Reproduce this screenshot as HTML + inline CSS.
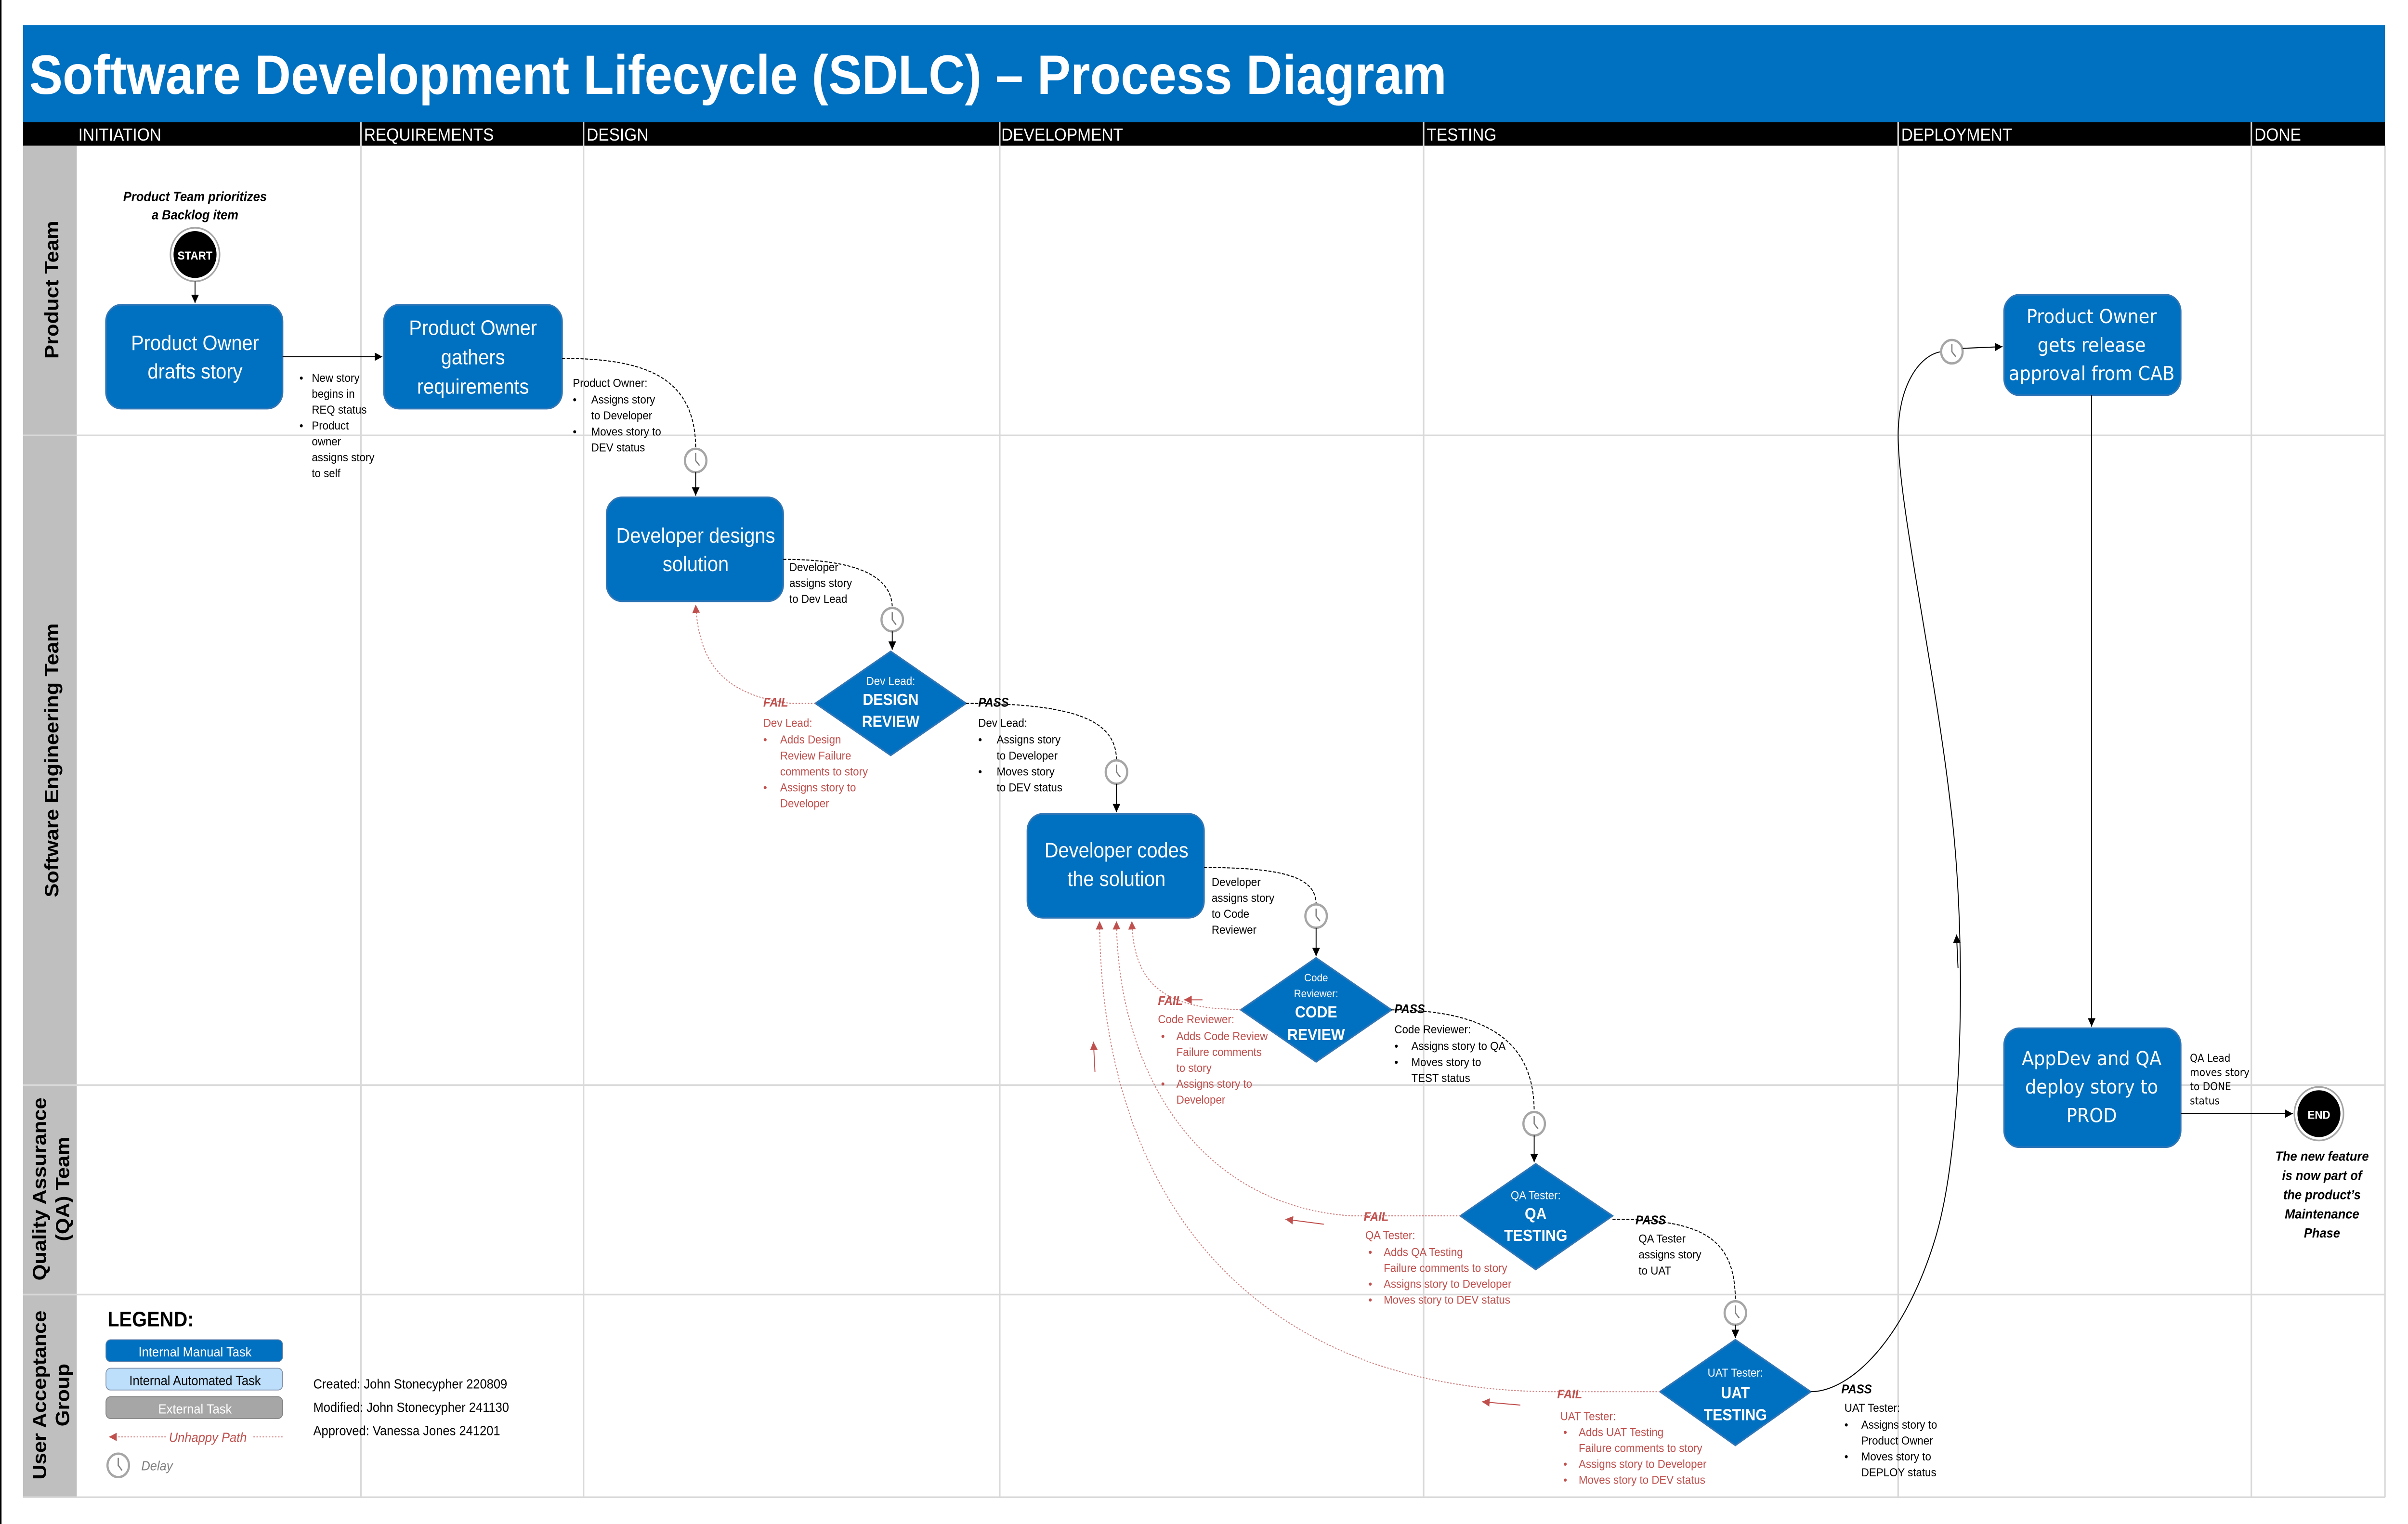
<!DOCTYPE html>
<html><head><meta charset="utf-8"><style>
html,body{margin:0;padding:0;background:#fff;width:100%;height:100%;overflow:hidden;}
svg{display:block;width:100vw;height:100vh;}
text{font-family:"Liberation Sans",sans-serif;}
.s{font-size:7px;fill:#000}
.r{font-size:7px;fill:#C0504D}
.bx{fill:#0070C0;stroke:#2E75B6;stroke-width:1}
.bt{fill:#fff;font-size:12.5px;text-anchor:middle}
.cn{fill:none;stroke:#000;stroke-width:0.6}
.cd{fill:none;stroke:#000;stroke-width:0.6;stroke-dasharray:2,1}
.rd{fill:none;stroke:#D08080;stroke-width:0.6;stroke-dasharray:1,1}
.pf{font-size:7.5px;font-weight:bold;font-style:italic}
.dj{font-family:"DejaVu Sans",sans-serif}
</style></head><body>
<svg viewBox="0 0 1568 910" preserveAspectRatio="none" xmlns="http://www.w3.org/2000/svg">
<defs>
<marker id="a" markerWidth="6" markerHeight="6" refX="5" refY="3" orient="auto" markerUnits="userSpaceOnUse"><path d="M0,0.5 L5,3 L0,5.5z" fill="#000"/></marker>
<marker id="ar" markerWidth="6" markerHeight="6" refX="5" refY="3" orient="auto" markerUnits="userSpaceOnUse"><path d="M0,0.5 L5,3 L0,5.5z" fill="#C0504D"/></marker>
<g id="clk"><circle r="7" fill="#fff" stroke="#A6A6A6" stroke-width="1.4"/><path d="M0,-4.5 L0,0 L2.5,3" fill="none" stroke="#808080" stroke-width="0.8"/></g>
</defs>
<rect width="1568" height="910" fill="#fff"/>
<line x1="0.5" y1="0" x2="0.5" y2="910" stroke="#000" stroke-width="1"/>
<rect x="15" y="15" width="1538" height="58" fill="#0070C0"/>
<text x="19" y="56" font-size="33" font-weight="bold" fill="#fff" textLength="923" lengthAdjust="spacingAndGlyphs">Software Development Lifecycle (SDLC) – Process Diagram</text>
<rect x="15" y="73" width="1538" height="14" fill="#000"/>
<g font-size="10.5" fill="#fff">
<text x="51" y="84">INITIATION</text><text x="237" y="84">REQUIREMENTS</text><text x="382" y="84">DESIGN</text>
<text x="652" y="84">DEVELOPMENT</text><text x="929" y="84">TESTING</text><text x="1238" y="84">DEPLOYMENT</text><text x="1468" y="84">DONE</text></g>
<rect x="15" y="87" width="35" height="807" fill="#BFBFBF"/>
<g stroke="#D9D9D9" stroke-width="1">
<line x1="235" y1="73" x2="235" y2="894"/><line x1="380" y1="73" x2="380" y2="894"/><line x1="651" y1="73" x2="651" y2="894"/>
<line x1="927" y1="73" x2="927" y2="894"/><line x1="1236" y1="73" x2="1236" y2="894"/><line x1="1466" y1="73" x2="1466" y2="894"/>
<line x1="1553" y1="87" x2="1553" y2="894"/>
<line x1="15" y1="260" x2="1553" y2="260"/><line x1="15" y1="648" x2="1553" y2="648"/><line x1="15" y1="773" x2="1553" y2="773"/><line x1="15" y1="894" x2="1553" y2="894"/>
</g>
<g font-size="12.5" font-weight="bold" fill="#000" text-anchor="middle">
<text transform="translate(38,173) rotate(-90)">Product Team</text>
<text transform="translate(38,454) rotate(-90)">Software Engineering Team</text>
<text transform="translate(30,710) rotate(-90)">Quality Assurance</text>
<text transform="translate(45,710) rotate(-90)">(QA) Team</text>
<text transform="translate(30,833) rotate(-90)">User Acceptance</text>
<text transform="translate(45,833) rotate(-90)">Group</text>
</g>
<g font-size="8" font-weight="bold" font-style="italic" text-anchor="middle"><text x="127" y="120">Product Team prioritizes</text><text x="127" y="131">a Backlog item</text></g>
<circle cx="127" cy="152" r="16" fill="#fff" stroke="#A6A6A6" stroke-width="1"/>
<circle cx="127" cy="152" r="14" fill="#000"/>
<text x="127" y="155" font-size="7" font-weight="bold" fill="#fff" text-anchor="middle">START</text>
<line x1="127" y1="168" x2="127" y2="181" class="cn" marker-end="url(#a)"/>
<rect class="bx" x="69" y="182" width="115" height="62" rx="10"/>
<text class="bt" x="127" y="209">Product Owner</text><text class="bt" x="127" y="226">drafts story</text>
<line x1="184" y1="213" x2="249" y2="213" class="cn" marker-end="url(#a)"/>
<g class="s"><text x="195" y="228">•</text><text x="203" y="228">New story</text><text x="203" y="237.5">begins in</text><text x="203" y="247">REQ status</text>
<text x="195" y="256.5">•</text><text x="203" y="256.5">Product</text><text x="203" y="266">owner</text><text x="203" y="275.5">assigns story</text><text x="203" y="285">to self</text></g>
<rect class="bx" x="250" y="182" width="116" height="62" rx="10"/>
<text class="bt" x="308" y="200">Product Owner</text><text class="bt" x="308" y="217.5">gathers</text><text class="bt" x="308" y="235">requirements</text>
<path class="cd" d="M366,214 C420,214 453,225 453,268"/>
<use href="#clk" x="453" y="275"/>
<line x1="453" y1="282" x2="453" y2="296" class="cn" marker-end="url(#a)"/>
<g class="s"><text x="373" y="231">Product Owner:</text><text x="373" y="241">•</text><text x="385" y="241">Assigns story</text><text x="385" y="250.5">to Developer</text>
<text x="373" y="260">•</text><text x="385" y="260">Moves story to</text><text x="385" y="269.5">DEV status</text></g>
<rect class="bx" x="395" y="297" width="115" height="62" rx="10"/>
<text class="bt" x="453" y="324">Developer designs</text><text class="bt" x="453" y="341">solution</text>
<path class="cd" d="M510,334 C560,334 581,345 581,363"/>
<use href="#clk" x="581" y="370"/>
<line x1="581" y1="377" x2="581" y2="388" class="cn" marker-end="url(#a)"/>
<g class="s"><text x="514" y="341">Developer</text><text x="514" y="350.5">assigns story</text><text x="514" y="360">to Dev Lead</text></g>
<polygon points="531,420 580,389 629,420 580,451" fill="#0070C0" stroke="#2E75B6"/>
<text x="580" y="409" font-size="7" fill="#fff" text-anchor="middle">Dev Lead:</text>
<text x="580" y="421" font-size="9.5" font-weight="bold" fill="#fff" text-anchor="middle">DESIGN</text>
<text x="580" y="434" font-size="9.5" font-weight="bold" fill="#fff" text-anchor="middle">REVIEW</text>
<path class="rd" d="M531,420 L515,420 C470,415 455,395 453,361" marker-end="url(#ar)"/>
<text x="497" y="422" class="pf" fill="#C0504D">FAIL</text>
<g class="r"><text x="497" y="434">Dev Lead:</text><text x="497" y="444">•</text><text x="508" y="444">Adds Design</text><text x="508" y="453.5">Review Failure</text><text x="508" y="463">comments to story</text><text x="497" y="472.5">•</text><text x="508" y="472.5">Assigns story to</text><text x="508" y="482">Developer</text></g>
<text x="637" y="422" class="pf">PASS</text>
<path class="cd" d="M629,420 C700,420 727,430 727,454"/>
<use href="#clk" x="727" y="461"/>
<line x1="727" y1="468" x2="727" y2="485" class="cn" marker-end="url(#a)"/>
<g class="s"><text x="637" y="434">Dev Lead:</text><text x="637" y="444">•</text><text x="649" y="444">Assigns story</text><text x="649" y="453.5">to Developer</text><text x="637" y="463">•</text><text x="649" y="463">Moves story</text><text x="649" y="472.5">to DEV status</text></g>
<rect class="bx" x="669" y="486" width="115" height="62" rx="10"/>
<text class="bt" x="727" y="512">Developer codes</text><text class="bt" x="727" y="529">the solution</text>
<path class="cd" d="M784,518 C840,518 857,525 857,540"/>
<use href="#clk" x="857" y="547"/>
<line x1="857" y1="554" x2="857" y2="571" class="cn" marker-end="url(#a)"/>
<g class="s"><text x="789" y="529">Developer</text><text x="789" y="538.5">assigns story</text><text x="789" y="548">to Code</text><text x="789" y="557.5">Reviewer</text></g>
<polygon points="808,603 857,572 906,603 857,634" fill="#0070C0" stroke="#2E75B6"/>
<text x="857" y="586" font-size="6.5" fill="#fff" text-anchor="middle">Code</text>
<text x="857" y="595.5" font-size="6.5" fill="#fff" text-anchor="middle">Reviewer:</text>
<text x="857" y="607.5" font-size="9.5" font-weight="bold" fill="#fff" text-anchor="middle">CODE</text>
<text x="857" y="621" font-size="9.5" font-weight="bold" fill="#fff" text-anchor="middle">REVIEW</text>
<path class="rd" d="M808,603 L790,602 C750,598 738,580 737,550" marker-end="url(#ar)"/>
<line x1="783" y1="597" x2="771" y2="597" stroke="#C0504D" stroke-width="0.6" marker-end="url(#ar)"/>
<text x="754" y="600" class="pf" fill="#C0504D">FAIL</text>
<g class="r"><text x="754" y="611">Code Reviewer:</text><text x="756" y="621">•</text><text x="766" y="621">Adds Code Review</text><text x="766" y="630.5">Failure comments</text><text x="766" y="640">to story</text><text x="756" y="649.5">•</text><text x="766" y="649.5">Assigns story to</text><text x="766" y="659">Developer</text></g>
<text x="908" y="605" class="pf">PASS</text>
<path class="cd" d="M906,603 C980,603 999,630 999,664"/>
<use href="#clk" x="999" y="671"/>
<line x1="999" y1="678" x2="999" y2="694" class="cn" marker-end="url(#a)"/>
<g class="s"><text x="908" y="617">Code Reviewer:</text><text x="908" y="627">•</text><text x="919" y="627">Assigns story to QA</text><text x="908" y="636.5">•</text><text x="919" y="636.5">Moves story to</text><text x="919" y="646">TEST status</text></g>
<polygon points="951,726 1000,695 1050,726 1000,758" fill="#0070C0" stroke="#2E75B6"/>
<text x="1000" y="716" font-size="7" fill="#fff" text-anchor="middle">QA Tester:</text>
<text x="1000" y="728" font-size="9.5" font-weight="bold" fill="#fff" text-anchor="middle">QA</text>
<text x="1000" y="741" font-size="9.5" font-weight="bold" fill="#fff" text-anchor="middle">TESTING</text>
<path class="rd" d="M951,726 L880,726 C780,720 728,640 727,550" marker-end="url(#ar)"/>
<line x1="862" y1="731" x2="837" y2="728" stroke="#C0504D" stroke-width="0.6" marker-end="url(#ar)"/>
<text x="888" y="729" class="pf" fill="#C0504D">FAIL</text>
<g class="r"><text x="889" y="740">QA Tester:</text><text x="891" y="750">•</text><text x="901" y="750">Adds QA Testing</text><text x="901" y="759.5">Failure comments to story</text><text x="891" y="769">•</text><text x="901" y="769">Assigns story to Developer</text><text x="891" y="778.5">•</text><text x="901" y="778.5">Moves story to DEV status</text></g>
<text x="1065" y="731" class="pf">PASS</text>
<path class="cd" d="M1050,728 C1110,728 1130,740 1130,777"/>
<use href="#clk" x="1130" y="784"/>
<line x1="1130" y1="791" x2="1130" y2="799" class="cn" marker-end="url(#a)"/>
<g class="s"><text x="1067" y="742">QA Tester</text><text x="1067" y="751.5">assigns story</text><text x="1067" y="761">to UAT</text></g>
<polygon points="1081,831 1130,800 1179,831 1130,863" fill="#0070C0" stroke="#2E75B6"/>
<text x="1130" y="822" font-size="7" fill="#fff" text-anchor="middle">UAT Tester:</text>
<text x="1130" y="835" font-size="9.5" font-weight="bold" fill="#fff" text-anchor="middle">UAT</text>
<text x="1130" y="848" font-size="9.5" font-weight="bold" fill="#fff" text-anchor="middle">TESTING</text>
<path class="rd" d="M1081,831 L1010,831 C820,830 717,720 716,550" marker-end="url(#ar)"/>
<line x1="990" y1="839" x2="965" y2="837" stroke="#C0504D" stroke-width="0.6" marker-end="url(#ar)"/>
<line x1="713" y1="640" x2="712" y2="622" stroke="#C0504D" stroke-width="0.6" marker-end="url(#ar)"/>
<text x="1014" y="835" class="pf" fill="#C0504D">FAIL</text>
<g class="r"><text x="1016" y="848">UAT Tester:</text><text x="1018" y="857.5">•</text><text x="1028" y="857.5">Adds UAT Testing</text><text x="1028" y="867">Failure comments to story</text><text x="1018" y="876.5">•</text><text x="1028" y="876.5">Assigns story to Developer</text><text x="1018" y="886">•</text><text x="1028" y="886">Moves story to DEV status</text></g>
<text x="1199" y="832" class="pf">PASS</text>
<path class="cn" d="M1179,831 C1205,831 1240,800 1260,740 C1280,680 1280,550 1270,480 C1260,400 1236,300 1236,260 C1236,230 1250,212 1264,210"/>
<use href="#clk" x="1271" y="210"/>
<line x1="1278" y1="208" x2="1304" y2="207" class="cn" marker-end="url(#a)"/>
<line x1="1275" y1="578" x2="1274" y2="558" class="cn" marker-end="url(#a)"/>
<g class="s"><text x="1201" y="843">UAT Tester:</text><text x="1201" y="853">•</text><text x="1212" y="853">Assigns story to</text><text x="1212" y="862.5">Product Owner</text><text x="1201" y="872">•</text><text x="1212" y="872">Moves story to</text><text x="1212" y="881.5">DEPLOY status</text></g>
<rect class="bx" x="1305" y="176" width="115" height="60" rx="10"/>
<g font-size="11.5" fill="#fff" text-anchor="middle">
<text class="dj" x="1362" y="193">Product Owner</text><text class="dj" x="1362" y="210">gets release</text><text class="dj" x="1362" y="227">approval from CAB</text></g>
<line x1="1362" y1="236" x2="1362" y2="613" class="cn" marker-end="url(#a)"/>
<rect class="bx" x="1305" y="614" width="115" height="71" rx="10"/>
<g font-size="11.5" fill="#fff" text-anchor="middle">
<text class="dj" x="1362" y="636">AppDev and QA</text><text class="dj" x="1362" y="653">deploy story to</text><text class="dj" x="1362" y="670">PROD</text></g>
<g font-size="6.3" fill="#000"><text class="dj" x="1426" y="634">QA Lead</text><text class="dj" x="1426" y="642.5">moves story</text><text class="dj" x="1426" y="651">to DONE</text><text class="dj" x="1426" y="659.5">status</text></g>
<line x1="1420" y1="665" x2="1493" y2="665" class="cn" marker-end="url(#a)"/>
<circle cx="1510" cy="665" r="16" fill="#fff" stroke="#A6A6A6" stroke-width="1"/>
<circle cx="1510" cy="665" r="14" fill="#000"/>
<text x="1510" y="668" font-size="7" font-weight="bold" fill="#fff" text-anchor="middle">END</text>
<g font-size="8" font-weight="bold" font-style="italic" text-anchor="middle">
<text x="1512" y="693">The new feature</text><text x="1512" y="704.5">is now part of</text><text x="1512" y="716">the product’s</text><text x="1512" y="727.5">Maintenance</text><text x="1512" y="739">Phase</text></g>
<text x="70" y="792" font-size="12.5" font-weight="bold">LEGEND:</text>
<rect x="69" y="800" width="115" height="13" rx="3" fill="#0070C0" stroke="#5B7DA8" stroke-width="0.5"/>
<text x="127" y="810" font-size="8" fill="#fff" text-anchor="middle">Internal Manual Task</text>
<rect x="69" y="817" width="115" height="13" rx="3" fill="#BDDFFB" stroke="#7F8FA6" stroke-width="0.5"/>
<text x="127" y="827" font-size="8" fill="#000" text-anchor="middle">Internal Automated Task</text>
<rect x="69" y="834" width="115" height="13" rx="3" fill="#A6A6A6" stroke="#808080" stroke-width="0.5"/>
<text x="127" y="844" font-size="8" fill="#fff" text-anchor="middle">External Task</text>
<line x1="184" y1="858" x2="71" y2="858" class="rd" marker-end="url(#ar)"/>
<rect x="108" y="852" width="56" height="10" fill="#fff"/>
<text x="110" y="861" font-size="8" font-style="italic" fill="#C0504D">Unhappy Path</text>
<use href="#clk" x="77" y="875"/>
<text x="92" y="878" font-size="8" font-style="italic" fill="#808080">Delay</text>
<g font-size="8"><text x="204" y="829">Created: John Stonecypher 220809</text><text x="204" y="843">Modified: John Stonecypher 241130</text><text x="204" y="857">Approved: Vanessa Jones 241201</text></g>
</svg>
</body></html>
